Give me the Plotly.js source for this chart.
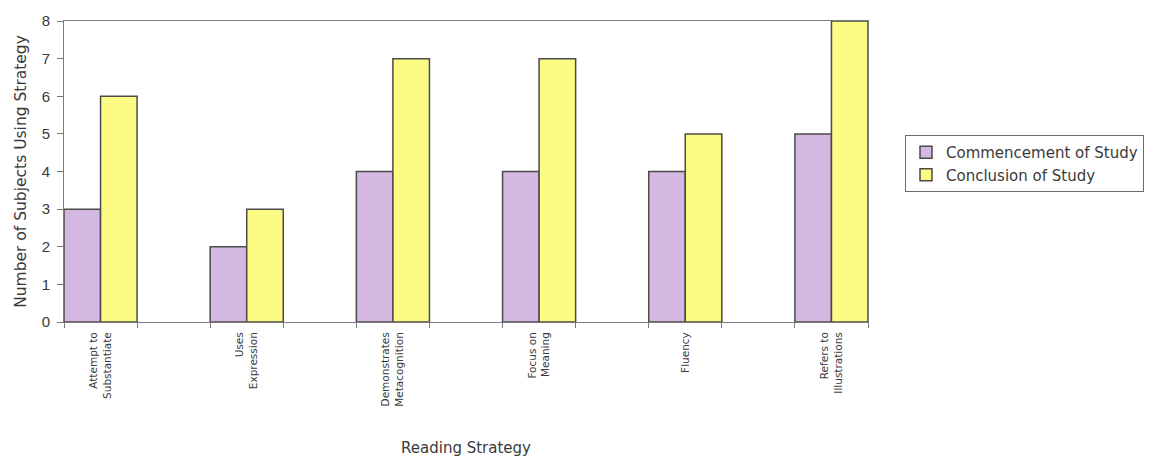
<!DOCTYPE html>
<html>
<head>
<meta charset="utf-8">
<script src="https://cdn.plot.ly/plotly-3.0.1.min.js"></script>
<style>html,body{margin:0;padding:0;background:#fff;}#chart{width:1155px;height:457px;}</style>
</head>
<body>
<div id="chart"></div>
<script>
const categories = ["Attempt to<br>Substantiate", "Uses<br>Expression", "Demonstrates<br>Metacognition", "Focus on<br>Meaning", "Fluency", "Refers to<br>Illustrations"];
const commencement = [3, 2, 4, 4, 4, 5];
const conclusion = [6, 3, 7, 7, 5, 8];
const seriesNames = ["Commencement of Study", "Conclusion of Study"];
const yTicks = [0, 1, 2, 3, 4, 5, 6, 7, 8];

// categories sit on every other slot, with an empty slot between them
const xPos = categories.map((c, i) => i * 2);
const boundaries = [];
for (let i = 0; i <= categories.length * 2 - 1; i++) boundaries.push(i - 0.5);

const wide = 'DejaVu Sans, Verdana, sans-serif';
const traces = [
  {type: 'bar', name: seriesNames[0], x: xPos, y: commencement, width: 0.5, offset: -0.5,
   marker: {color: '#d4b8e2', line: {color: '#4a4a4a', width: 1.5}}},
  {type: 'bar', name: seriesNames[1], x: xPos, y: conclusion, width: 0.5, offset: 0,
   marker: {color: '#fcfc84', line: {color: '#4a4a4a', width: 1.5}}},
  {type: 'scatter', x: [0], y: [0], xaxis: 'x2', showlegend: false, hoverinfo: 'skip',
   mode: 'markers', marker: {opacity: 0}}
];

const layout = {
  width: 1155, height: 457,
  margin: {l: 64, r: 286, t: 21, b: 135},
  paper_bgcolor: '#ffffff', plot_bgcolor: '#ffffff',
  font: {family: 'Liberation Sans, Arial, sans-serif', color: '#3a3a3a'},
  barmode: 'overlay',
  xaxis: {
    range: [-0.5, categories.length * 2 - 1.5],
    tickmode: 'array', tickvals: xPos, ticktext: categories,
    tickangle: -90, ticks: '', tickfont: {family: wide, size: 10.5, color: '#3a3a3a'},
    ticklabelstandoff: 5,
    showgrid: false, zeroline: false,
    showline: true, linecolor: '#7a7a7a', linewidth: 1, mirror: true,
    title: {text: 'Reading Strategy', font: {family: wide, size: 15, color: '#3a3a3a'}, standoff: 36}
  },
  xaxis2: {
    overlaying: 'x', matches: 'x', range: [-0.5, categories.length * 2 - 1.5],
    tickmode: 'array', tickvals: boundaries, ticktext: boundaries.map(() => ''),
    ticks: 'outside', ticklen: 5, tickcolor: '#7a7a7a', showgrid: false, zeroline: false,
    showline: false, side: 'bottom'
  },
  yaxis: {
    range: [0, 8], tickmode: 'array', tickvals: yTicks,
    ticks: 'outside', ticklen: 6, tickcolor: '#7a7a7a',
    tickfont: {size: 15, color: '#3a3a3a'}, ticklabelstandoff: 4,
    showgrid: false, zeroline: false,
    showline: true, linecolor: '#7a7a7a', linewidth: 1, mirror: true,
    title: {text: 'Number of Subjects Using Strategy', font: {family: wide, size: 15.5, color: '#3a3a3a'}, standoff: 11}
  },
  showlegend: true,
  legend: {
    font: {family: wide, size: 15, color: '#3a3a3a'},
    bordercolor: '#6a6a6a', borderwidth: 1, bgcolor: '#ffffff',
    tracegroupgap: 0, itemwidth: 30, xanchor: 'left', yanchor: 'top'
  }
};
// legend placed in paper coordinates relative to plot area
const plotW = 1155 - 64 - 286, plotH = 457 - 21 - 135;
layout.legend.x = (905 - 64) / plotW;
layout.legend.y = (457 - 135 - 135) / plotH;

Plotly.newPlot('chart', traces, layout, {displayModeBar: false, staticPlot: true});
</script>
</body>
</html>
